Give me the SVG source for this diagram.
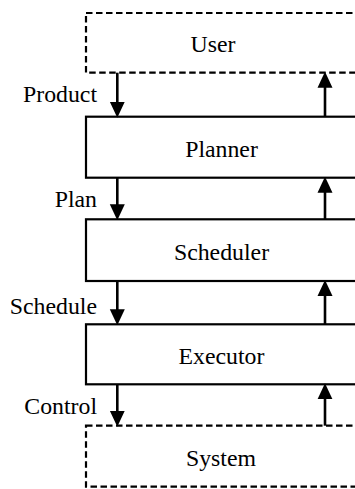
<svg xmlns="http://www.w3.org/2000/svg" width="355" height="489" viewBox="0 0 355 489">
<style>
.box{fill:#fff;stroke:#000;stroke-width:2.2}
.dash{stroke-dasharray:6.5 3.5}
.t{font-family:'Liberation Serif','Times New Roman',serif;font-size:23.8px;fill:#000}
.c{text-anchor:middle}
.e{text-anchor:end}
.arr{stroke:#000;stroke-width:2.6;fill:none;marker-end:url(#ah)}
</style>
<defs>
<marker id="ah" markerUnits="userSpaceOnUse" markerWidth="16" markerHeight="16" refX="7" refY="7.5" orient="auto" viewBox="0 0 16 15">
<path d="M0,0 L16,7.5 L0,15 z" fill="#000"/>
</marker>
</defs>
<g id="user"><rect class="box dash" x="86" y="13" width="290" height="59.7"/><text class="t c" x="213" y="51.7">User</text></g>
<g id="planner"><rect class="box" x="86" y="116.7" width="290" height="61"/><text class="t c" x="221.5" y="156.7">Planner</text></g>
<g id="scheduler"><rect class="box" x="86" y="219.3" width="290" height="61.7"/><text class="t c" x="221.5" y="259.5">Scheduler</text></g>
<g id="executor"><rect class="box" x="86" y="324.3" width="290" height="60"/><text class="t c" x="221.5" y="363.5">Executor</text></g>
<g id="system"><rect class="box dash" x="86" y="425.7" width="290" height="61"/><text class="t c" x="221" y="465.5">System</text></g>
<g id="connectors">
<line class="arr" x1="117.3" y1="72.7" x2="117.3" y2="108.7"/>
<line class="arr" x1="325" y1="116.7" x2="325" y2="80.7"/>
<line class="arr" x1="117.3" y1="177.7" x2="117.3" y2="211.3"/>
<line class="arr" x1="325" y1="219.3" x2="325" y2="185.7"/>
<line class="arr" x1="117.3" y1="281" x2="117.3" y2="316.3"/>
<line class="arr" x1="325" y1="324.3" x2="325" y2="289"/>
<line class="arr" x1="117.3" y1="384.3" x2="117.3" y2="417.7"/>
<line class="arr" x1="325" y1="425.7" x2="325" y2="392.3"/>
<text class="t e" x="97" y="101.7">Product</text>
<text class="t e" x="97" y="207.3">Plan</text>
<text class="t e" x="97" y="314">Schedule</text>
<text class="t e" x="97" y="414">Control</text>
</g>
</svg>
